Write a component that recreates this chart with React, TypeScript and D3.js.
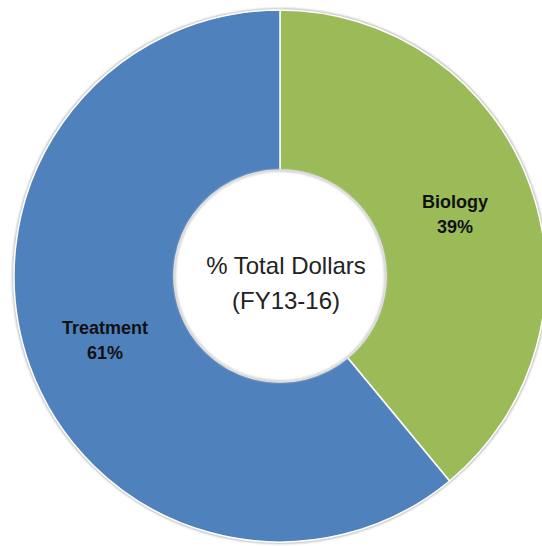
import React from "react";
import * as d3 from "d3";

const categories = ["Biology", "Treatment"];
const values = [39, 61];
const percentLabels = ["39%", "61%"];
const colors = ["#9BBB59", "#4F81BD"];
const centerLines = ["% Total Dollars", "(FY13-16)"];

const W = 542;
const H = 546;
const cx = 280;
const cy = 276;
const outerR = 266;
const innerR = 106;

export default function App() {
  const pie = d3
    .pie<number>()
    .sort(null)
    .value((d) => d)
    .startAngle(0)
    .endAngle(2 * Math.PI);
  const arcs = pie(values);
  const arc = d3.arc<d3.PieArcDatum<number>>().innerRadius(innerR).outerRadius(outerR);

  return (
    <div style={{ position: "fixed", left: 0, top: 0, width: W, height: H, background: "#fff" }}>
      <svg width={W} height={H} style={{ display: "block" }}>
        <defs>
          <filter id="soft" x="-20%" y="-20%" width="140%" height="140%">
            <feGaussianBlur stdDeviation="1.2" />
          </filter>
        </defs>
        <g transform={`translate(${cx},${cy})`}>
          <circle r={outerR + 0.5} fill="none" stroke="#b8b8b8" strokeWidth={2.5} filter="url(#soft)" />
          {arcs.map((a, i) => (
            <path key={categories[i]} d={arc(a) || ""} fill={colors[i]} stroke="#ffffff" strokeWidth={1.5} />
          ))}
          <circle r={innerR} fill="#ffffff" />
          <circle r={innerR - 0.5} fill="none" stroke="#c4c4c4" strokeWidth={2} filter="url(#soft)" />
          {arcs.map((a, i) => {
            const [x, y] = arc.centroid(a);
            return (
              <text
                key={"l" + categories[i]}
                x={x}
                y={y}
                textAnchor="middle"
                fontFamily="'Liberation Sans', Arial, sans-serif"
                fontWeight="bold"
                fontSize={18}
                fill="#111"
              >
                <tspan x={x} dy={-5}>{categories[i]}</tspan>
                <tspan x={x} dy={25}>{percentLabels[i]}</tspan>
              </text>
            );
          })}
          <text
            textAnchor="middle"
            fontFamily="'Liberation Sans', Arial, sans-serif"
            fontSize={24}
            fill="#222"
          >
            <tspan x={6} y={-2}>{centerLines[0]}</tspan>
            <tspan x={6} y={33}>{centerLines[1]}</tspan>
          </text>
        </g>
      </svg>
    </div>
  );
}
